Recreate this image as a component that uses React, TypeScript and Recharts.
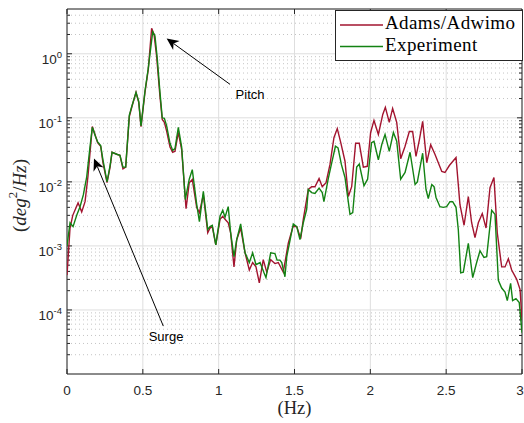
import React from "react";
import {
  CartesianGrid,
  Line,
  LineChart,
  ReferenceArea,
  ReferenceDot,
  ReferenceLine,
  XAxis,
  YAxis,
} from "recharts";

const adamsFreq = [
  0, 0.02, 0.038, 0.073, 0.097, 0.119, 0.138, 0.167, 0.189, 0.202, 0.222, 0.237, 0.264, 0.284, 0.297,
  0.328, 0.349, 0.369, 0.387, 0.411, 0.427, 0.455, 0.473, 0.488, 0.514, 0.536, 0.558, 0.574, 0.591,
  0.613, 0.628, 0.642, 0.657, 0.679, 0.697, 0.712, 0.734, 0.756, 0.785, 0.806, 0.826, 0.855, 0.873,
  0.899, 0.928, 0.943, 0.958, 0.981, 1.009, 1.027, 1.042, 1.063, 1.079, 1.101, 1.119, 1.145, 1.174,
  1.202, 1.224, 1.246, 1.268, 1.294, 1.317, 1.343, 1.371, 1.393, 1.426, 1.459, 1.49, 1.515, 1.541,
  1.558, 1.591, 1.613, 1.635, 1.662, 1.683, 1.708, 1.734, 1.76, 1.782, 1.805, 1.833, 1.855, 1.877,
  1.903, 1.927, 1.954, 1.98, 2.002, 2.024, 2.053, 2.082, 2.099, 2.125, 2.147, 2.174, 2.2, 2.229,
  2.257, 2.279, 2.301, 2.323, 2.345, 2.372, 2.398, 2.426, 2.471, 2.492, 2.521, 2.565, 2.591, 2.618,
  2.646, 2.668, 2.69, 2.712, 2.738, 2.763, 2.789, 2.815, 2.837, 2.866, 2.888, 2.91, 2.932, 2.965,
  2.987, 3.0,
];
const adamsPsd = [
  3.5e-4, 1.9e-3, 3.0e-3, 4.7e-3, 3.4e-3, 4.9e-3, 1.2e-2, 7.3e-2, 5.1e-2, 4.1e-2, 3.6e-2, 2.0e-2,
  9.7e-3, 1.7e-2, 2.9e-2, 2.7e-2, 2.6e-2, 1.6e-2, 1.7e-2, 0.105, 0.146, 0.25, 0.174, 0.073, 0.25,
  0.57, 2.5, 2.0, 0.91, 0.216, 0.094, 0.085, 0.062, 0.035, 0.029, 0.03, 0.059, 0.032, 3.8e-3, 9.7e-3,
  1.09e-2, 4.0e-3, 3.3e-3, 6.3e-3, 1.6e-3, 1.9e-3, 2.0e-3, 1.04e-3, 2.6e-3, 2.9e-3, 2.6e-3, 2.3e-3,
  1.6e-3, 4.7e-4, 1.25e-3, 1.9e-3, 7.8e-4, 4.2e-4, 5.5e-4, 4.7e-4, 2.65e-4, 6.1e-4, 3.9e-4, 6.1e-4,
  5.3e-4, 5.5e-4, 3.9e-4, 1.1e-3, 2.0e-3, 2.0e-3, 1.3e-3, 2.6e-3, 7.6e-3, 8.4e-3, 8.4e-3, 1.13e-2,
  8.4e-3, 9.7e-3, 1.87e-2, 4.9e-2, 6.8e-2, 4.1e-2, 2.1e-2, 5.9e-3, 8.4e-3, 4.0e-2, 4.0e-2, 1.7e-2,
  1.75e-2, 5.9e-2, 9.1e-2, 5.5e-2, 0.113, 0.146, 8.5e-2, 0.14, 8.5e-2, 2.3e-2, 3.6e-2, 6.1e-2,
  6.1e-2, 2.5e-2, 4.5e-2, 8.8e-2, 2.0e-2, 3.8e-2, 2.7e-2, 1.45e-2, 1.4e-2, 1.8e-2, 2.4e-2, 4.4e-3,
  2.1e-3, 5.9e-3, 2.3e-3, 1.35e-3, 2.3e-3, 3.2e-3, 1.9e-3, 8.1e-3, 1.17e-2, 1.6e-3, 4.7e-4, 4.7e-4,
  6.3e-4, 4.2e-4, 3.0e-4, 2.1e-4, 7.0e-5,
];

const expFreq = [
  0, 0.02, 0.04, 0.064, 0.086, 0.108, 0.13, 0.152, 0.167, 0.189, 0.202, 0.222, 0.237, 0.264, 0.284,
  0.297, 0.328, 0.349, 0.369, 0.387, 0.411, 0.427, 0.455, 0.473, 0.488, 0.514, 0.536, 0.565, 0.58,
  0.595, 0.613, 0.628, 0.642, 0.657, 0.679, 0.697, 0.712, 0.734, 0.756, 0.78, 0.806, 0.826, 0.855,
  0.873, 0.899, 0.928, 0.943, 0.958, 0.981, 1.009, 1.027, 1.042, 1.063, 1.079, 1.101, 1.119, 1.145,
  1.174, 1.202, 1.224, 1.246, 1.273, 1.299, 1.312, 1.343, 1.371, 1.385, 1.404, 1.416, 1.437, 1.449,
  1.492, 1.515, 1.536, 1.558, 1.58, 1.591, 1.613, 1.635, 1.662, 1.683, 1.694, 1.722, 1.748, 1.77,
  1.787, 1.809, 1.833, 1.866, 1.884, 1.91, 1.927, 1.958, 1.982, 2.008, 2.024, 2.053, 2.075, 2.097,
  2.125, 2.152, 2.174, 2.2, 2.229, 2.262, 2.295, 2.31, 2.345, 2.367, 2.382, 2.405, 2.42, 2.433,
  2.459, 2.481, 2.503, 2.525, 2.543, 2.565, 2.58, 2.596, 2.613, 2.646, 2.675, 2.701, 2.723, 2.749,
  2.767, 2.8, 2.822, 2.844, 2.866, 2.888, 2.903, 2.925, 2.938, 2.96, 2.982, 3.0,
];
const expPsd = [
  1.0e-3, 2.3e-3, 2.0e-3, 3.0e-3, 4.1e-3, 6.3e-3, 1.2e-2, 3.6e-2, 7.1e-2, 5.0e-2, 4.2e-2, 3.7e-2,
  2.2e-2, 1.0e-2, 1.8e-2, 2.9e-2, 2.7e-2, 2.6e-2, 1.7e-2, 1.7e-2, 0.11, 0.15, 0.25, 0.18, 0.075,
  0.26, 0.6, 2.2, 1.9, 0.85, 0.25, 0.1, 0.098, 0.075, 0.04, 0.031, 0.033, 0.071, 0.035, 5.3e-3,
  1.1e-2, 1.55e-2, 4.5e-3, 2.4e-3, 7.1e-3, 1.8e-3, 2.0e-3, 2.1e-3, 1.04e-3, 2.9e-3, 3.6e-3, 2.8e-3,
  4.1e-3, 1.6e-3, 6.8e-4, 1.25e-3, 2.2e-3, 7.8e-4, 5.5e-4, 7.8e-4, 5.1e-4, 5.5e-4, 3.8e-4, 3.2e-4,
  7.8e-4, 7.6e-4, 6.0e-4, 6.0e-4, 5.5e-4, 3.3e-4, 6.8e-4, 2.2e-3, 2.0e-3, 1.25e-3, 2.3e-3, 3.7e-3,
  7.6e-3, 6.8e-3, 6.6e-3, 8.0e-3, 6.8e-3, 4.9e-3, 1.1e-2, 2.1e-2, 3.6e-2, 3.4e-2, 1.87e-2, 1.17e-2,
  3.1e-3, 3.3e-3, 1.7e-2, 1.9e-2, 8.7e-3, 1.1e-2, 4.1e-2, 4.3e-2, 2.2e-2, 3.8e-2, 5.5e-2, 3.0e-2,
  5.9e-2, 4.3e-2, 1.1e-2, 1.4e-2, 2.9e-2, 9.1e-3, 1.0e-2, 2.8e-2, 7.6e-3, 5.5e-3, 9.1e-3, 8.4e-3,
  5.7e-3, 4.1e-3, 4.0e-3, 4.1e-3, 4.9e-3, 4.9e-3, 4.0e-3, 1.8e-3, 3.8e-4, 3.9e-4, 1.1e-3, 3.2e-4,
  5.5e-4, 8.4e-4, 6.6e-4, 6.8e-4, 3.6e-3, 3.1e-3, 2.9e-4, 2.2e-4, 1.9e-4, 1.4e-4, 2.6e-4, 1.4e-4,
  1.5e-4, 1.3e-4, 4.4e-5,
];

const xTicks = [0, 0.5, 1, 1.5, 2, 2.5, 3];
const yTicks = [1e-4, 1e-3, 1e-2, 1e-1, 1];
const yMinor = [
  2e-5, 3e-5, 4e-5, 5e-5, 6e-5, 7e-5, 8e-5, 9e-5,
  2e-4, 3e-4, 4e-4, 5e-4, 6e-4, 7e-4, 8e-4, 9e-4,
  2e-3, 3e-3, 4e-3, 5e-3, 6e-3, 7e-3, 8e-3, 9e-3,
  2e-2, 3e-2, 4e-2, 5e-2, 6e-2, 7e-2, 8e-2, 9e-2,
  0.2, 0.3, 0.4, 0.5, 0.6, 0.7, 0.8, 0.9,
  2, 3, 4,
];

const RED = "#a2142f";
const GREEN = "#138213";
const AXIS = "#262626";
const SANS = "'Liberation Sans', Arial, Helvetica, sans-serif";
const SERIF = "'Liberation Serif', 'Times New Roman', serif";

const adamsData = adamsFreq.map((f, i) => ({ f, v: adamsPsd[i] }));
const expData = expFreq.map((f, i) => ({ f, v: expPsd[i] }));

const PowTick = (props: any) => {
  const { x, y, payload } = props;
  const exp = Math.round(Math.log10(payload.value));
  return (
    <text x={x} y={y + 10} textAnchor="end" fill={AXIS} fontSize={13.5} fontFamily={SANS}>
      <tspan>10</tspan>
      <tspan dy={-5.5} fontSize={9.5}>
        {exp}
      </tspan>
    </text>
  );
};

const HzTick = (props: any) => {
  const { x, y, payload } = props;
  return (
    <text x={x} y={y + 16} textAnchor="middle" fill={AXIS} fontSize={13.5} fontFamily={SANS}>
      {payload.value}
    </text>
  );
};

const YTitle = (props: any) => {
  const vb = props.viewBox || { x: 0, y: 9, width: 67, height: 365 };
  const cx = vb.x + 19;
  const cy = vb.y + vb.height / 2 + 4;
  return (
    <text
      x={cx}
      y={cy}
      transform={`rotate(-90, ${cx}, ${cy})`}
      textAnchor="middle"
      dominantBaseline="central"
      fill={AXIS}
      fontFamily={SERIF}
      fontSize={19}
    >
      <tspan>(</tspan>
      <tspan fontStyle="italic">deg</tspan>
      <tspan fontSize={13} dy={-7}>2</tspan>
      <tspan dy={7}>/</tspan>
      <tspan fontStyle="italic">Hz</tspan>
      <tspan>)</tspan>
    </text>
  );
};

const XTitle = (props: any) => {
  const vb = props.viewBox || { x: 67, y: 374, width: 455, height: 49 };
  return (
    <text x={vb.x + vb.width / 2} y={vb.y + 40} textAnchor="middle" fill={AXIS} fontFamily={SERIF} fontSize={18.5}>
      (Hz)
    </text>
  );
};

// inward tick stubs at both ends of a reference line, optional dotted minor grid
const stubs = (len: number, vertical: boolean, dotted = false) => (p: any) => {
  const { x1, y1, x2, y2 } = p;
  if (vertical) {
    const top = Math.min(y1, y2);
    const bot = Math.max(y1, y2);
    return (
      <g stroke={AXIS} strokeWidth={1}>
        <line x1={x1} x2={x1} y1={bot} y2={bot - len} />
        <line x1={x1} x2={x1} y1={top} y2={top + len} />
      </g>
    );
  }
  const l = Math.min(x1, x2);
  const r = Math.max(x1, x2);
  return (
    <g>
      {dotted && <line x1={l} x2={r} y1={y1} y2={y1} stroke="#c4c4c4" strokeWidth={1} strokeDasharray="1 3" />}
      <line x1={l} x2={l + len} y1={y1} y2={y1} stroke={AXIS} strokeWidth={1} />
      <line x1={r - len} x2={r} y1={y1} y2={y1} stroke={AXIS} strokeWidth={1} />
    </g>
  );
};

const arrow = (p: any) => {
  const { x1, y1, x2, y2 } = p;
  const dx = x2 - x1;
  const dy = y2 - y1;
  const len = Math.hypot(dx, dy) || 1;
  const ux = dx / len;
  const uy = dy / len;
  const nx = -uy;
  const ny = ux;
  const hl = 12;
  const hw = 5.5;
  const notch = 3.5;
  const bx = x2 - ux * hl;
  const by = y2 - uy * hl;
  const mx = x2 - ux * (hl - notch);
  const my = y2 - uy * (hl - notch);
  const pts = [
    [x2, y2],
    [bx + nx * hw, by + ny * hw],
    [mx, my],
    [bx - nx * hw, by - ny * hw],
  ]
    .map((q) => q.join(","))
    .join(" ");
  return (
    <g>
      <line x1={x1} y1={y1} x2={mx} y2={my} stroke="#000" strokeWidth={1} />
      <polygon points={pts} fill="#000" />
    </g>
  );
};

const note = (label: string) => (p: any) => (
  <text x={p.cx} y={p.cy} textAnchor="middle" dominantBaseline="central" fill="#000" fontSize={13} fontFamily={SANS}>
    {label}
  </text>
);

export default function App() {
  return (
    <div style={{ position: "absolute", left: 0, top: 0, width: 524, height: 423, background: "#fff" }}>
      <LineChart width={524} height={423} margin={{ top: 9, right: 2, bottom: 0, left: 0 }}>
        <CartesianGrid stroke="#dedede" strokeWidth={1} />
        <XAxis
          dataKey="f"
          type="number"
          domain={[0, 3]}
          ticks={xTicks}
          allowDataOverflow
          axisLine={false}
          tickLine={false}
          tickSize={5}
          tickMargin={0}
          tick={<HzTick />}
          height={49}
          label={<XTitle />}
        />
        <YAxis
          dataKey="v"
          scale="log"
          domain={[1e-5, 5]}
          ticks={yTicks}
          allowDataOverflow
          axisLine={false}
          tickLine={false}
          tickSize={5}
          tickMargin={0}
          tick={<PowTick />}
          width={67}
          label={<YTitle />}
        />
        {yMinor.map((v) => (
          <ReferenceLine key={`yn${v}`} y={v} shape={stubs(3, false, true)} />
        ))}
        {yTicks.map((v) => (
          <ReferenceLine key={`ym${v}`} y={v} shape={stubs(5, false)} />
        ))}
        {xTicks.map((v) => (
          <ReferenceLine key={`x${v}`} x={v} shape={stubs(5, true)} />
        ))}
        <ReferenceArea x1={0} x2={3} y1={1e-5} y2={5} fill="none" stroke={AXIS} strokeWidth={1} fillOpacity={0} />
        <Line
          data={adamsData}
          dataKey="v"
          type="linear"
          stroke={RED}
          strokeWidth={1.4}
          dot={false}
          isAnimationActive={false}
        />
        <Line
          data={expData}
          dataKey="v"
          type="linear"
          stroke={GREEN}
          strokeWidth={1.4}
          dot={false}
          isAnimationActive={false}
        />
        <ReferenceLine
          segment={[
            { x: 1.075, y: 0.333 },
            { x: 0.657, y: 1.73 },
          ]}
          shape={arrow}
        />
        <ReferenceLine
          segment={[
            { x: 0.635, y: 5.6e-5 },
            { x: 0.178, y: 0.0232 },
          ]}
          shape={arrow}
        />
        <ReferenceDot x={1.207} y={0.232} r={0} shape={note("Pitch")} />
        <ReferenceDot x={0.653} y={3.8e-5} r={0} shape={note("Surge")} />
      </LineChart>
      <svg width={524} height={423} style={{ position: "absolute", left: 0, top: 0, pointerEvents: "none" }}>
        <rect x={335.5} y={10.5} width={187} height={50} fill="#fff" stroke={AXIS} strokeWidth={1} />
        <line x1={340} x2={383} y1={25} y2={25} stroke={RED} strokeWidth={1.4} />
        <text x={385} y={29} fontFamily={SERIF} fontSize={19} letterSpacing={0.4} fill="#000">
          Adams/Adwimo
        </text>
        <line x1={340} x2={383} y1={46.5} y2={46.5} stroke={GREEN} strokeWidth={1.4} />
        <text x={385} y={51} fontFamily={SERIF} fontSize={19} letterSpacing={0.4} fill="#000">
          Experiment
        </text>
      </svg>
    </div>
  );
}
